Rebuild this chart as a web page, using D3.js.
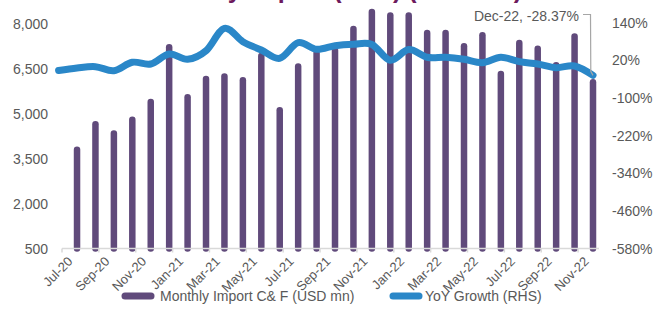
<!DOCTYPE html>
<html>
<head>
<meta charset="utf-8">
<script src="https://cdn.jsdelivr.net/npm/d3@7"></script>
<style>
  html, body { margin: 0; padding: 0; background: #ffffff; }
  svg { display: block; font-family: "Liberation Sans", Arial, sans-serif; }
</style>
</head>
<body>
<svg id="chart" width="666" height="321"></svg>
<script>
// Monthly import bill (C&F, USD mn) with year-on-year growth on the right-hand axis
const months = ["Jul-20","Aug-20","Sep-20","Oct-20","Nov-20","Dec-20","Jan-21","Feb-21","Mar-21","Apr-21",
  "May-21","Jun-21","Jul-21","Aug-21","Sep-21","Oct-21","Nov-21","Dec-21","Jan-22","Feb-22",
  "Mar-22","Apr-22","May-22","Jun-22","Jul-22","Aug-22","Sep-22","Oct-22","Nov-22"];
const importValues = [3790, 4640, 4330, 4790, 5380, 7210, 5540, 6150, 6230, 6110,
  6920, 5110, 6570, 7020, 7100, 7820, 8380, 8270, 8270, 7680,
  7680, 7240, 7610, 6320, 7350, 7160, 6610, 7570, 6040];

// YoY growth series starts one month earlier than the import bars
const yoyMonths = ["Jun-20"].concat(months);
const yoyValues = [-12.8, -4.8, -0.7, -13.4, 13.3, 7.9, 39.7, 22.9, 50.0, 121.5,
  78.9, 52.5, 26.0, 75.7, 54.7, 66.2, 70.6, 70.0, 19.7, 53.7,
  29.2, 29.2, 22.9, 12.0, 29.2, 15.2, 7.9, -3.9, 1.5, -28.37];

const leftTicks = [500, 2000, 3500, 5000, 6500, 8000];
const rightTicks = [-580, -460, -340, -220, -100, 20, 140];
const tickLabelMonths = months.filter((m, i) => i % 2 === 0);

const titleText = "Monthly Import (C&F) (USD mn)";
const annotationLabel = "Dec-22";
const legendItems = [
  { label: "Monthly Import C& F (USD mn)", color: "#604a7b" },
  { label: "YoY Growth (RHS)", color: "#2a87c8" }
];

const svg = d3.select("#chart");
const textColor = "#595959";
const barColor = "#604a7b";
const lineColor = "#2a87c8";

// Scales
const x = d3.scalePoint().domain(yoyMonths).range([58.6, 593]);
const band = d3.scaleLinear().domain([0, months.length]).range([62, 596.5]);
const yL = d3.scaleLinear().domain([500, 8000]).range([248.5, 23.5]);
const yR = d3.scaleLinear().domain([-580, 140]).range([248.5, 22.5]);

// Title (sits mostly above the visible area)
svg.append("text")
  .attr("x", 334).attr("y", -2)
  .attr("text-anchor", "middle")
  .attr("font-size", 25).attr("font-weight", "bold")
  .attr("fill", "#6d1a5d")
  .text(titleText);

// Left axis labels
svg.append("g").selectAll("text")
  .data(leftTicks).join("text")
  .attr("x", 48).attr("y", d => yL(d))
  .attr("dy", "0.36em")
  .attr("text-anchor", "end")
  .attr("font-size", 14).attr("fill", textColor)
  .text(d => d3.format(",")(d));

// Right axis labels
svg.append("g").selectAll("text")
  .data(rightTicks).join("text")
  .attr("x", 612).attr("y", d => yR(d))
  .attr("dy", "0.36em")
  .attr("text-anchor", "start")
  .attr("font-size", 14).attr("fill", textColor)
  .text(d => d + "%");

// Columns drawn as rounded strokes from the axis baseline
svg.append("g").selectAll("line")
  .data(months.map((m, i) => ({ m, v: importValues[i] }))).join("line")
  .attr("x1", d => x(d.m)).attr("x2", d => x(d.m))
  .attr("y1", yL(500)).attr("y2", d => yL(d.v))
  .attr("stroke", barColor)
  .attr("stroke-width", 6.5)
  .attr("stroke-linecap", "round");

// Category axis line and tick marks every two months
svg.append("line")
  .attr("x1", band(0)).attr("x2", 599)
  .attr("y1", yL(500)).attr("y2", yL(500))
  .attr("stroke", "#d9d9d9").attr("stroke-width", 1.5);

const tickIdx = d3.range(0, months.length + 1, 2);
svg.append("g").selectAll("line")
  .data(tickIdx).join("line")
  .attr("x1", d => band(d)).attr("x2", d => band(d))
  .attr("y1", yL(500)).attr("y2", yL(500) + 4)
  .attr("stroke", "#d9d9d9").attr("stroke-width", 1.5);

// Rotated month labels
svg.append("g").selectAll("text")
  .data(tickLabelMonths).join("text")
  .attr("transform", d => `translate(${band(months.indexOf(d) + 0.5) - 1},259) rotate(-45)`)
  .attr("text-anchor", "end")
  .attr("dy", "0.35em")
  .attr("font-size", 13).attr("fill", textColor)
  .text(d => d);

// YoY growth line
const line = d3.line()
  .x(d => x(d.m))
  .y(d => yR(d.v))
  .curve(d3.curveCardinal.tension(0));

svg.append("path")
  .datum(yoyMonths.map((m, i) => ({ m, v: yoyValues[i] })))
  .attr("d", line)
  .attr("fill", "none")
  .attr("stroke", lineColor)
  .attr("stroke-width", 7)
  .attr("stroke-linecap", "round")
  .attr("stroke-linejoin", "round");

// Data label on the last growth point with a leader line
const lastM = yoyMonths[yoyMonths.length - 1];
const lastV = yoyValues[yoyValues.length - 1];
const lx = x(lastM), ly = yR(lastV);
svg.append("text")
  .attr("x", 579).attr("y", 20.5)
  .attr("text-anchor", "end")
  .attr("font-size", 14).attr("fill", textColor)
  .text(`${annotationLabel}, ${lastV.toFixed(2)}%`);

svg.append("polyline")
  .attr("points", [[583, 14.5], [lx - 2.5, 14.5], [lx - 2.2, ly - 4], [lx, ly]].map(p => p.join(",")).join(" "))
  .attr("fill", "none")
  .attr("stroke", "#a6a6a6")
  .attr("stroke-width", 1.2);

// Legend
const legend = svg.append("g").attr("transform", "translate(0,296)");
const legendX = [122, 390];
legendItems.forEach((it, i) => {
  const g = legend.append("g").attr("transform", `translate(${legendX[i]},0)`);
  g.append("line")
    .attr("x1", 3).attr("x2", 29)
    .attr("y1", 0).attr("y2", 0)
    .attr("stroke", it.color).attr("stroke-width", 7)
    .attr("stroke-linecap", "round");
  g.append("text")
    .attr("x", i === 0 ? 38 : 35).attr("y", 0)
    .attr("dy", "0.36em")
    .attr("font-size", 14).attr("fill", textColor)
    .text(it.label);
});
</script>
</body>
</html>
